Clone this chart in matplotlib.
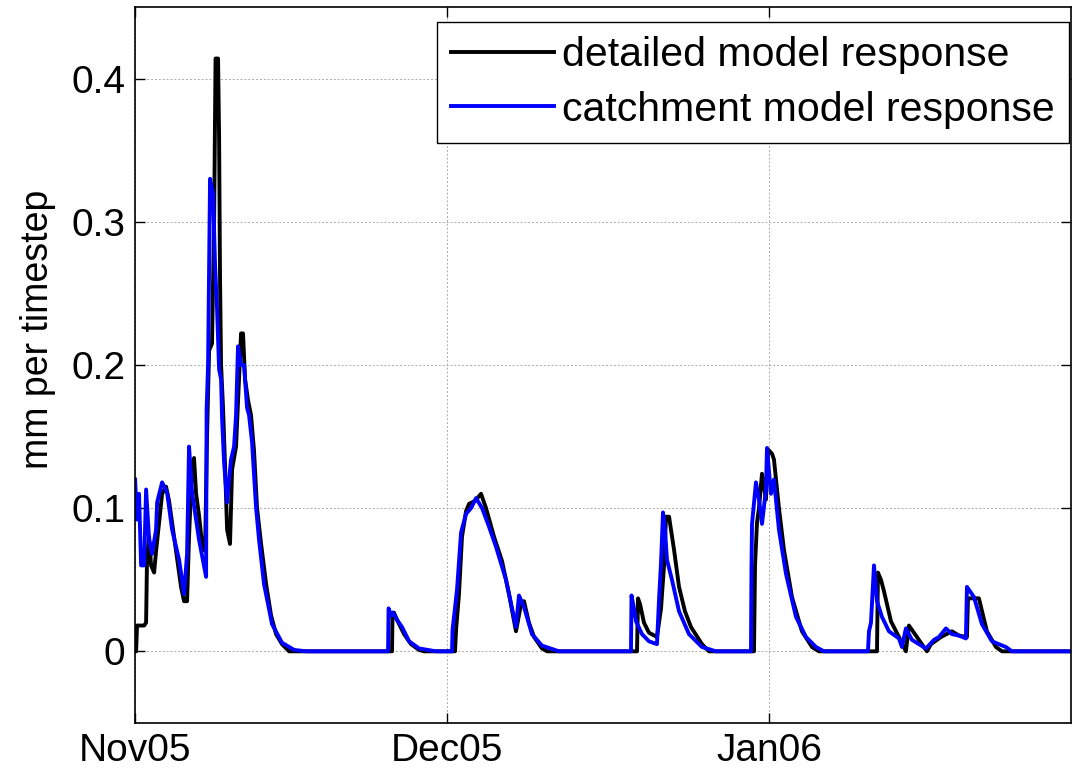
import numpy as np
import matplotlib
matplotlib.use("Agg")
import matplotlib.pyplot as plt
import matplotlib.dates as mdates
from datetime import datetime, timedelta

# === DATA: days after 1 Nov 2005, runoff in mm per timestep ===
start = datetime(2005, 11, 1)

detailed_days = [0.0, 0.1, 0.19, 0.87, 1.06, 1.15, 1.35, 1.54, 1.83, 2.02, 2.31, 2.6, 2.98,
                 3.27, 3.56, 3.85, 4.13, 4.42, 4.71, 5.0, 5.19, 5.48, 5.67, 5.87, 6.15, 6.44,
                 6.73, 6.92, 7.12, 7.4, 7.6, 7.74, 7.98, 8.08, 8.17, 8.27, 8.46, 8.65, 8.85,
                 9.13, 9.33, 9.71, 10.0, 10.19, 10.38, 10.58, 10.87, 11.15, 11.44, 11.73,
                 12.12, 12.6, 13.08, 13.56, 14.13, 14.81,
                 24.71, 24.76, 24.9, 25.19, 25.87, 26.54, 27.31, 27.79,
                 30.77, 30.87, 31.15, 31.44, 31.83, 32.12, 32.69, 33.27, 33.75, 34.52, 35.29,
                 35.96, 36.63, 37.12, 37.4, 37.88, 38.37, 39.13, 39.62,
                 48.27, 48.37, 48.56, 48.94, 49.42, 50.19, 50.58, 50.87, 51.06, 51.35, 51.83,
                 52.31, 52.88, 53.46, 54.52, 55.19,
                 59.52, 59.62, 59.81, 60.0, 60.29, 60.67, 60.87, 61.25, 61.44, 61.92, 62.4,
                 63.17, 64.13, 65.1, 65.77,
                 71.35, 71.44, 71.73, 72.02, 72.69, 73.46, 74.13, 74.42, 75.19, 76.15, 76.54,
                 77.5, 78.56, 79.23, 80.0, 80.1, 81.15, 81.92, 82.79, 83.37, 89.9]
detailed_vals = [0.0, 0.0, 0.018, 0.018, 0.02, 0.065, 0.08, 0.06, 0.055, 0.07, 0.09, 0.11, 0.115,
                 0.105, 0.09, 0.075, 0.06, 0.045, 0.035, 0.035, 0.08, 0.13, 0.135, 0.11, 0.095,
                 0.075, 0.07, 0.15, 0.21, 0.215, 0.3, 0.414, 0.414, 0.36, 0.26, 0.2, 0.17, 0.13,
                 0.085, 0.075, 0.127, 0.143, 0.19, 0.222, 0.222, 0.19, 0.175, 0.165, 0.14, 0.1,
                 0.075, 0.047, 0.025, 0.012, 0.005, 0.0,
                 0.0, 0.027, 0.027, 0.022, 0.012, 0.005, 0.001, 0.0,
                 0.0, 0.015, 0.04, 0.08, 0.098, 0.103, 0.105, 0.11, 0.1, 0.08, 0.063,
                 0.04, 0.014, 0.033, 0.035, 0.02, 0.01, 0.002, 0.0,
                 0.0, 0.037, 0.033, 0.02, 0.013, 0.01, 0.03, 0.06, 0.094, 0.094, 0.071,
                 0.045, 0.028, 0.017, 0.005, 0.0,
                 0.0, 0.06, 0.09, 0.1, 0.124, 0.106, 0.141, 0.138, 0.134, 0.1, 0.071,
                 0.038, 0.014, 0.003, 0.0,
                 0.0, 0.055, 0.05, 0.042, 0.021, 0.01, 0.0, 0.018, 0.01, 0.0, 0.005,
                 0.01, 0.014, 0.011, 0.01, 0.037, 0.037, 0.014, 0.003, 0.0, 0.0]

catchment_days = [0.0, 0.19, 0.38, 0.58, 0.87, 1.06, 1.35, 1.63, 2.02, 2.12, 2.6, 3.08, 3.56,
                  4.23, 4.71, 5.0, 5.19, 5.48, 6.15, 6.83, 6.88, 7.02, 7.21, 7.5, 7.69, 7.88,
                  8.08, 8.27, 8.37, 8.56, 8.85, 9.04, 9.23, 9.52, 9.71, 9.9, 10.19, 10.48,
                  10.77, 10.96, 11.25, 11.63, 11.92, 12.4, 13.17, 14.13, 15.29, 16.44,
                  24.33, 24.38, 24.62, 24.81, 25.19, 25.67, 26.35, 27.31, 28.94,
                  30.48, 30.53, 30.96, 31.35, 31.83, 32.31, 32.79, 33.37, 34.04, 34.71, 35.67,
                  36.63, 36.92, 37.4, 38.17, 39.13, 40.77,
                  47.69, 47.74, 47.98, 48.17, 48.75, 49.42, 50.19, 50.38, 50.58, 50.77, 50.96,
                  51.15, 51.63, 52.31, 53.27, 54.52, 55.87,
                  59.23, 59.28, 59.33, 59.71, 60.0, 60.29, 60.67, 60.77, 61.15, 61.44, 61.92,
                  62.6, 63.56, 64.52, 65.48, 66.25,
                  70.48, 70.58, 70.77, 71.06, 71.35, 71.83, 72.5, 73.46, 73.75, 74.13, 74.71,
                  76.06, 76.83, 77.31, 77.98, 78.56, 79.23, 79.9, 80.0, 80.67, 81.44, 82.4,
                  83.75, 84.33, 89.9]
catchment_vals = [0.12, 0.092, 0.11, 0.06, 0.06, 0.113, 0.078, 0.068, 0.085, 0.104, 0.118, 0.111,
                  0.085, 0.064, 0.04, 0.068, 0.143, 0.111, 0.078, 0.052, 0.169, 0.2, 0.33, 0.32,
                  0.27, 0.24, 0.197, 0.19, 0.162, 0.132, 0.104, 0.12, 0.134, 0.143, 0.165, 0.213,
                  0.2, 0.2, 0.17, 0.165, 0.146, 0.101, 0.078, 0.047, 0.019, 0.006, 0.001, 0.0,
                  0.0, 0.03, 0.025, 0.027, 0.022, 0.017, 0.007, 0.002, 0.0,
                  0.0, 0.015, 0.043, 0.083, 0.096, 0.1, 0.107, 0.1, 0.087, 0.073, 0.05,
                  0.017, 0.039, 0.031, 0.012, 0.004, 0.0,
                  0.0, 0.039, 0.03, 0.021, 0.012, 0.007, 0.005, 0.035, 0.062, 0.097, 0.085,
                  0.064, 0.05, 0.028, 0.012, 0.003, 0.0,
                  0.0, 0.059, 0.089, 0.118, 0.106, 0.089, 0.113, 0.142, 0.11, 0.12, 0.085,
                  0.054, 0.024, 0.01, 0.003, 0.0,
                  0.0, 0.014, 0.02, 0.06, 0.035, 0.024, 0.014, 0.009, 0.003, 0.016, 0.008,
                  0.002, 0.008, 0.01, 0.016, 0.012, 0.011, 0.009, 0.045, 0.038, 0.019, 0.007,
                  0.003, 0.0, 0.0]

y_ticks = [0, 0.1, 0.2, 0.3, 0.4]
y_ticklabels = ['0', '0.1', '0.2', '0.3', '0.4']

t_det = [start + timedelta(days=d) for d in detailed_days]
t_cat = [start + timedelta(days=d) for d in catchment_days]

# === PLOT ===
plt.rcParams['font.family'] = ['Liberation Sans', 'DejaVu Sans']

fig = plt.figure(figsize=(10.72, 7.74), dpi=100)
ax = fig.add_axes([0.126, 0.066, 0.873, 0.925])

ax.plot(t_det, detailed_vals, color='black', lw=2.8, label='detailed model response')
ax.plot(t_cat, catchment_vals, color='blue', lw=2.8, label='catchment model response')

ax.set_xlim(start, start + timedelta(days=90))
ax.set_ylim(-0.05, 0.45)
ax.set_yticks(y_ticks)
ax.set_yticklabels(y_ticklabels)
ax.xaxis.set_major_locator(mdates.MonthLocator())
ax.xaxis.set_major_formatter(mdates.DateFormatter('%b%y'))

ax.tick_params(direction='in', length=7, width=1, labelsize=28, top=True, right=True, pad=7)
ax.grid(True, linestyle=(0, (2, 2)), color='#aaaaaa', lw=0.7)
for sp in ax.spines.values():
    sp.set_linewidth(1.2)

ax.set_ylabel('mm per timestep', fontsize=27)
ax.yaxis.set_label_coords(-0.085, 0.55)

leg = ax.legend(loc='upper right', bbox_to_anchor=(0.998, 0.979), borderaxespad=0,
                fontsize=29.5, handlelength=2.5, handletextpad=0.2, labelspacing=0.4,
                fancybox=False, framealpha=1, edgecolor='black', borderpad=0.35)
leg.get_frame().set_linewidth(1.0)

plt.savefig('out.png', dpi=100)
